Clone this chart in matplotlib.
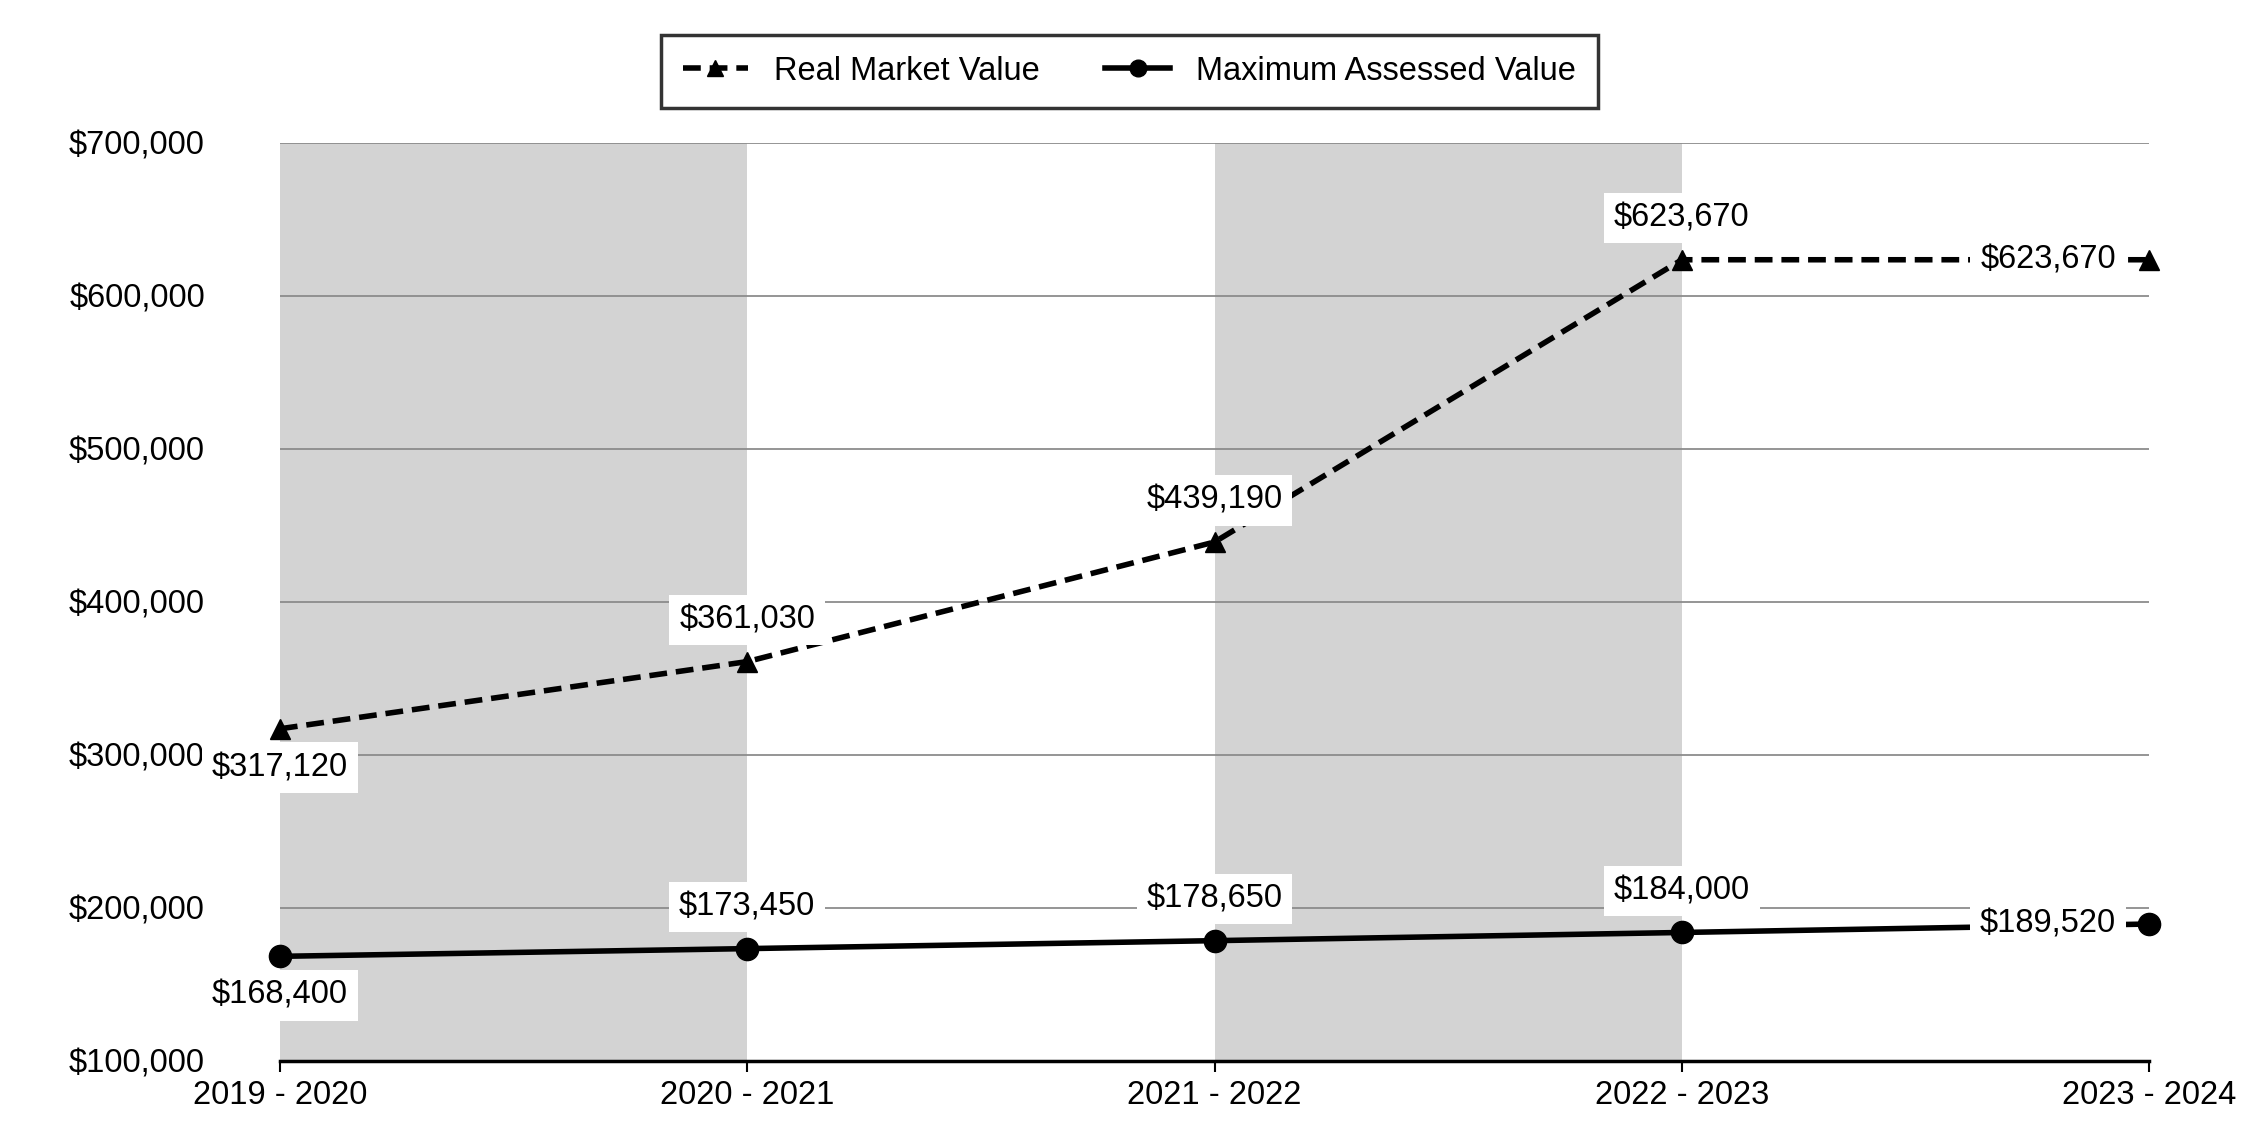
import matplotlib.pyplot as plt
from matplotlib.ticker import FuncFormatter

plt.rcParams['font.family'] = ['Liberation Sans', 'DejaVu Sans']

# Data
years = ["2019 - 2020", "2020 - 2021", "2021 - 2022", "2022 - 2023", "2023 - 2024"]
real_market = [317120, 361030, 439190, 623670, 623670]
max_assessed = [168400, 173450, 178650, 184000, 189520]
# where each label sits relative to its point
rmv_pos = ["below", "above", "above", "above", "left"]
mav_pos = ["below", "above", "above", "above", "left"]

fig = plt.figure(figsize=(22.5, 11.4), dpi=100)
ax = fig.add_axes([0.1244, 0.0693, 0.8308, 0.8053])

x = list(range(len(years)))
fs = 23.5

# alternating shaded bands
for i in range(0, len(years) - 1, 2):
    ax.axvspan(i, i + 1, color='#d3d3d3', zorder=0.2, lw=0)

ax.set_axisbelow(True)
ax.grid(axis='y', color='#8c8c8c', lw=1.3, zorder=0.5)

ax.plot(x, real_market, color='black', lw=4, ls=(0, (3.2, 1.6)), marker='^',
        ms=15, label='Real Market Value', clip_on=False, zorder=3)
ax.plot(x, max_assessed, color='black', lw=4, marker='o', ms=16,
        label='Maximum Assessed Value', clip_on=False, zorder=3)

box = dict(boxstyle='square,pad=0.3', fc='white', ec='none')
offsets = {"above": ((0, 30), 'center', 'center'),
           "below": ((0, -28), 'center', 'center'),
           "left": ((-24, 0), 'right', 'center')}
for vals, pos in [(real_market, rmv_pos), (max_assessed, mav_pos)]:
    for xi, v, p in zip(x, vals, pos):
        off, ha, va = offsets[p]
        ax.annotate("${:,.0f}".format(v), (xi, v), xytext=off,
                    textcoords='offset points', ha=ha, va=va, fontsize=fs,
                    bbox=box, zorder=4)

ax.set_xlim(0, len(years) - 1)
ax.set_ylim(100000, 700000)
ax.set_yticks(range(100000, 700001, 100000))
ax.yaxis.set_major_formatter(FuncFormatter(lambda v, p: "${:,.0f}".format(v)))
ax.set_xticks(x)
ax.set_xticklabels(years)
ax.tick_params(axis='y', length=0, pad=54, labelsize=fs)
ax.tick_params(axis='x', length=8, width=1.5, pad=6, labelsize=fs)

for s in ['top', 'right', 'left']:
    ax.spines[s].set_visible(False)
ax.spines['bottom'].set_linewidth(2.5)

leg = fig.legend(loc='center', bbox_to_anchor=(0.502, 0.9375), ncol=2,
                 fontsize=fs, frameon=True, fancybox=False, handlelength=2.0,
                 columnspacing=2.0, borderpad=0.65, markerscale=0.75)
leg.get_frame().set_edgecolor('black')
leg.get_frame().set_linewidth(2.5)

fig.savefig('out.png', dpi=100)
